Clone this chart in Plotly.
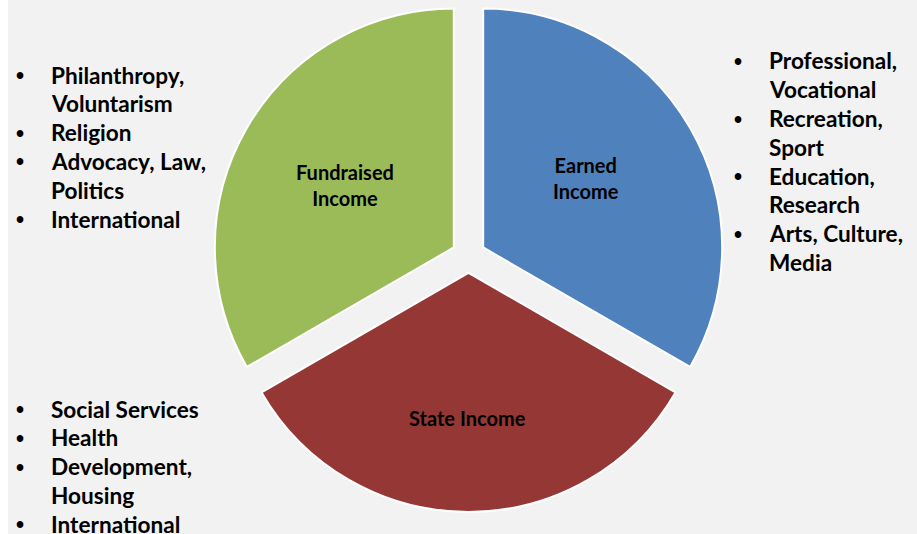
import plotly.graph_objects as go

# ---- data ----
slice_labels = ["Earned<br>Income", "State Income", "Fundraised<br>Income"]
slice_values = [1, 1, 1]
slice_colors = ["#4F81BD", "#953735", "#9BBB59"]

fundraised_items = ["Philanthropy,|Voluntarism", "Religion", "Advocacy, Law,|Politics", "International"]
earned_items = ["Professional,|Vocational", "Recreation,|Sport", "Education,|Research", "Arts, Culture,|Media"]
state_items = ["Social Services", "Health", "Development,|Housing", "International"]

LEFT_GAP = 8          # white strip on the left of the page
W, H = 917 - LEFT_GAP, 534
FONT = "Lato"

fig = go.Figure()
fig.add_trace(go.Pie(
    labels=slice_labels,
    values=slice_values,
    sort=False,
    direction="clockwise",
    rotation=0,
    pull=[0.071, 0.071, 0.071],
    marker=dict(colors=slice_colors, line=dict(color="white", width=2)),
    textinfo="none",
    hoverinfo="none",
    showlegend=False,
    domain=dict(x=[0.2244, 0.7888], y=[0.0414, 1.0]),
))

annotations = []

# slice labels (page pixel centres of the text blocks)
label_pos = [(586, 178), (467, 418), (345, 185)]
for lab, (px, py) in zip(slice_labels, label_pos):
    annotations.append(dict(
        x=(px - LEFT_GAP) / W, y=1 - py / H, xref="paper", yref="paper",
        text=lab, showarrow=False, xanchor="center", yanchor="middle", align="center",
        font=dict(family=FONT, size=20, color="black", weight="bold"),
    ))

PITCH = 28.8


def add_list(items, x_bullet, x_text, y_first):
    i = 0
    for item in items:
        lines = item.split("|")
        for j, line in enumerate(lines):
            ypx = y_first + i * PITCH
            if j == 0:
                annotations.append(dict(
                    x=x_bullet / W, y=1 - (ypx + 1) / H, xref="paper", yref="paper",
                    text="•", showarrow=False, xanchor="center", yanchor="middle",
                    font=dict(family="Arial", size=23, color="black", weight="bold"),
                ))
            annotations.append(dict(
                x=x_text / W, y=1 - ypx / H, xref="paper", yref="paper",
                text=line, showarrow=False, xanchor="left", yanchor="middle",
                font=dict(family=FONT, size=22.6, color="black", weight="bold"),
            ))
            i += 1


# positions in page pixels minus the left strip
add_list(fundraised_items, 20 - LEFT_GAP, 52 - LEFT_GAP - 3, 75)
add_list(earned_items, 738 - LEFT_GAP, 770 - LEFT_GAP - 3, 61)
add_list(state_items, 20 - LEFT_GAP, 52 - LEFT_GAP - 3, 409)

fig.update_layout(
    width=W, height=H,
    margin=dict(l=0, r=0, t=0, b=0),
    paper_bgcolor="#F2F2F2",
    plot_bgcolor="#F2F2F2",
    annotations=annotations,
)

fig.write_html(
    "out.html",
    post_script="document.body.style.margin='0px 0px 0px %dpx';document.body.style.overflow='hidden';" % LEFT_GAP,
)
